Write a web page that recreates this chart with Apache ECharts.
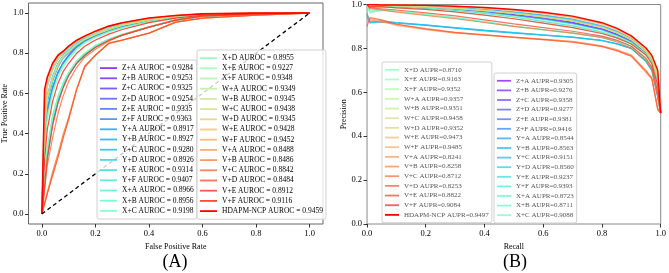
<!DOCTYPE html>
<html>
<head>
<meta charset="utf-8">
<script src="https://cdn.jsdelivr.net/npm/echarts@6/dist/echarts.min.js"></script>
<style>
  html, body { margin: 0; padding: 0; background: #fff; }
  #chart { width: 669px; height: 273px; }
</style>
</head>
<body>
<div id="chart"></div>
<script>
// model names, same order in both panels
var models = ['Z+A', 'Z+B', 'Z+C', 'Z+D', 'Z+E', 'Z+F',
  'Y+A', 'Y+B', 'Y+C', 'Y+D', 'Y+E', 'Y+F',
  'X+A', 'X+B', 'X+C', 'X+D', 'X+E', 'X+F',
  'W+A', 'W+B', 'W+C', 'W+D', 'W+E', 'W+F',
  'V+A', 'V+B', 'V+C', 'V+D', 'V+E', 'V+F', 'HDAPM-NCP'];

var auroc = ['0.9284', '0.9253', '0.9325', '0.9254', '0.9335', '0.9363',
  '0.8917', '0.8927', '0.9280', '0.8926', '0.9314', '0.9407',
  '0.8966', '0.8956', '0.9198', '0.8955', '0.9227', '0.9348',
  '0.9349', '0.9345', '0.9438', '0.9345', '0.9428', '0.9452',
  '0.8488', '0.8486', '0.8842', '0.8484', '0.8912', '0.9116', '0.9459'];

var aupr = ['0.9305', '0.9276', '0.9358', '0.9277', '0.9381', '0.9416',
  '0.8544', '0.8563', '0.9151', '0.8560', '0.9237', '0.9393',
  '0.8723', '0.8711', '0.9088', '0.8710', '0.9163', '0.9352',
  '0.9357', '0.9351', '0.9458', '0.9352', '0.9473', '0.9485',
  '0.8241', '0.8258', '0.8712', '0.8253', '0.8822', '0.9084', '0.9497'];

var ticks = [0, 0.2, 0.4, 0.6, 0.8, 1.0];

// ROC: shared false positive rate grid, one TPR row per model
var rocFpr = [0, 0.01, 0.02, 0.04, 0.06, 0.08, 0.1, 0.13, 0.16, 0.2, 0.25, 0.3, 0.4, 0.5, 0.6, 0.8, 1];
var rocTpr = [
  [0, .38, .52, .63, .705, .755, .79, .835, .865, .89, .915, .935, .962, .981, .992, .998, 1],   // Z+A
  [0, .36, .50, .62, .70, .75, .785, .83, .86, .885, .91, .93, .96, .98, .992, .998, 1],        // Z+B
  [0, .42, .56, .665, .735, .78, .805, .84, .868, .893, .918, .938, .965, .983, .993, .999, 1], // Z+C
  [0, .35, .51, .625, .70, .748, .785, .828, .858, .884, .91, .931, .96, .98, .991, .998, 1],   // Z+D
  [0, .43, .57, .67, .74, .782, .808, .842, .869, .894, .919, .939, .966, .983, .993, .999, 1], // Z+E
  [0, .46, .59, .685, .75, .79, .815, .848, .873, .897, .922, .942, .968, .984, .994, .999, 1], // Z+F
  [0, .13, .27, .45, .56, .635, .69, .75, .79, .83, .865, .89, .93, .965, .985, .996, 1],       // Y+A
  [0, .15, .29, .46, .565, .64, .695, .752, .792, .832, .866, .89, .93, .965, .985, .996, 1],   // Y+B
  [0, .38, .52, .635, .705, .752, .788, .833, .863, .888, .914, .934, .962, .981, .992, .998, 1], // Y+C
  [0, .14, .30, .465, .56, .64, .693, .752, .79, .83, .866, .891, .93, .965, .985, .996, 1],    // Y+D
  [0, .41, .55, .66, .73, .775, .802, .84, .867, .892, .917, .937, .964, .982, .993, .999, 1],  // Y+E
  [0, .52, .63, .715, .768, .80, .825, .856, .88, .902, .928, .946, .971, .986, .995, 1, 1],    // Y+F
  [0, .17, .33, .49, .585, .655, .705, .762, .80, .838, .87, .894, .932, .966, .986, .996, 1],  // X+A
  [0, .16, .32, .485, .58, .65, .70, .76, .798, .836, .869, .893, .932, .966, .985, .996, 1],   // X+B
  [0, .32, .47, .60, .68, .735, .772, .818, .85, .878, .905, .926, .957, .978, .99, .997, 1],   // X+C
  [0, .16, .31, .48, .58, .652, .702, .76, .80, .836, .868, .893, .932, .966, .985, .996, 1],   // X+D
  [0, .34, .49, .61, .69, .742, .778, .824, .855, .882, .908, .928, .958, .979, .991, .998, 1], // X+E
  [0, .44, .575, .675, .742, .784, .81, .845, .87, .895, .92, .94, .967, .984, .994, .999, 1],  // X+F
  [0, .45, .58, .677, .744, .785, .81, .844, .87, .895, .92, .94, .967, .984, .994, .999, 1],   // W+A
  [0, .44, .575, .675, .743, .784, .81, .845, .87, .895, .92, .94, .966, .984, .994, .999, 1],  // W+B
  [0, .54, .65, .73, .778, .808, .832, .862, .885, .907, .932, .95, .973, .987, .996, 1, 1],    // W+C
  [0, .45, .58, .676, .742, .783, .809, .844, .869, .894, .919, .94, .966, .984, .994, .999, 1], // W+D
  [0, .53, .645, .727, .775, .806, .83, .86, .884, .906, .931, .949, .972, .987, .995, 1, 1],   // W+E
  [0, .58, .67, .745, .788, .812, .835, .865, .888, .91, .934, .951, .974, .988, .996, 1, 1],   // W+F
  [0, .06, .11, .20, .29, .39, .48, .625, .735, .79, .85, .866, .90, .955, .975, .99, 1],       // V+A
  [0, .05, .10, .21, .30, .40, .48, .62, .73, .792, .848, .865, .90, .955, .975, .99, 1],       // V+B
  [0, .12, .24, .38, .50, .59, .66, .73, .78, .82, .86, .89, .93, .965, .985, .995, 1],         // V+C
  [0, .05, .10, .19, .28, .38, .47, .62, .735, .79, .85, .865, .90, .955, .975, .99, 1],        // V+D
  [0, .14, .28, .44, .55, .63, .69, .75, .79, .83, .865, .89, .93, .965, .985, .996, 1],        // V+E
  [0, .27, .42, .56, .65, .71, .75, .80, .835, .866, .895, .918, .952, .975, .989, .997, 1],    // V+F
  [0, .62, .68, .75, .79, .81, .835, .865, .885, .91, .935, .952, .975, .988, .996, 1, 1]       // HDAPM-NCP
];

// PR: shared recall grid, one precision row per model
var prRecall = [0, 0.01, 0.05, 0.1, 0.2, 0.3, 0.4, 0.5, 0.6, 0.7, 0.8, 0.85, 0.9, 0.95, 0.97, 0.99, 1];
var prPrec = [
  [1, .99, .993, .993, .988, .98, .97, .955, .94, .92, .89, .866, .835, .78, .745, .66, .505],   // Z+A
  [1, .99, .99, .99, .985, .976, .966, .952, .935, .915, .886, .863, .832, .778, .742, .655, .505], // Z+B
  [1, .995, .995, .995, .99, .983, .973, .96, .945, .926, .896, .873, .84, .786, .752, .67, .505],  // Z+C
  [1, .99, .99, .99, .985, .977, .966, .952, .935, .915, .886, .862, .832, .778, .742, .655, .505], // Z+D
  [1, .995, .996, .996, .991, .985, .975, .963, .948, .928, .898, .875, .842, .788, .754, .672, .505], // Z+E
  [1, 1, .997, .996, .992, .987, .978, .967, .952, .933, .903, .879, .846, .79, .756, .678, .505],  // Z+F
  [.95, .92, .92, .915, .905, .892, .88, .87, .86, .85, .835, .82, .80, .74, .70, .58, .505],       // Y+A
  [.96, .92, .925, .918, .907, .895, .883, .872, .862, .852, .837, .822, .80, .742, .70, .58, .505], // Y+B
  [1, .99, .99, .99, .984, .974, .96, .943, .923, .903, .874, .853, .824, .772, .738, .65, .505],   // Y+C
  [.94, .915, .922, .917, .906, .894, .882, .872, .861, .851, .836, .821, .80, .741, .70, .58, .505], // Y+D
  [1, .99, .99, .99, .985, .975, .964, .95, .932, .912, .883, .86, .83, .776, .74, .652, .505],     // Y+E
  [1, .995, .996, .996, .991, .985, .976, .964, .949, .93, .90, .876, .843, .789, .755, .674, .505], // Y+F
  [1, .97, .975, .97, .955, .94, .922, .902, .886, .871, .851, .835, .81, .75, .71, .60, .505],      // X+A
  [1, .965, .973, .968, .953, .938, .92, .90, .884, .869, .849, .834, .809, .749, .709, .60, .505],  // X+B
  [1, .99, .99, .985, .978, .966, .952, .935, .915, .895, .868, .848, .82, .77, .73, .63, .505],     // X+C
  [1, .96, .975, .97, .955, .94, .92, .90, .885, .87, .85, .835, .81, .75, .71, .60, .505],          // X+D
  [1, .99, .99, .99, .985, .975, .962, .945, .925, .905, .875, .855, .825, .775, .74, .65, .505],    // X+E
  [1, .995, .995, .995, .99, .982, .972, .96, .944, .925, .895, .872, .84, .785, .75, .67, .505],    // X+F
  [1, .995, .995, .995, .99, .983, .973, .96, .945, .925, .896, .872, .84, .786, .752, .67, .505],   // W+A
  [1, .99, .995, .995, .99, .982, .972, .96, .944, .924, .895, .871, .84, .785, .75, .67, .505],     // W+B
  [1, 1, .998, .997, .994, .99, .982, .972, .958, .94, .91, .885, .85, .795, .76, .685, .505],       // W+C
  [1, .995, .995, .995, .99, .982, .972, .96, .944, .925, .895, .872, .84, .785, .75, .668, .505],   // W+D
  [1, 1, .998, .997, .995, .99, .984, .974, .96, .942, .912, .887, .852, .797, .762, .69, .505],     // W+E
  [1, 1, .998, .998, .995, .991, .985, .975, .962, .944, .914, .889, .854, .80, .765, .695, .505],   // W+F
  [.93, .935, .925, .905, .885, .87, .86, .85, .84, .83, .81, .79, .765, .69, .66, .52, .505],       // V+A
  [.95, .93, .92, .91, .888, .872, .862, .852, .842, .832, .812, .795, .77, .70, .665, .53, .505],   // V+B
  [1, .98, .975, .965, .95, .935, .918, .90, .885, .87, .85, .83, .80, .745, .705, .58, .505],       // V+C
  [.9, .94, .93, .91, .89, .873, .862, .85, .84, .828, .808, .79, .765, .695, .662, .52, .505],      // V+D
  [1, .985, .98, .975, .962, .948, .93, .912, .895, .878, .856, .838, .81, .755, .715, .60, .505],   // V+E
  [1, .99, .99, .985, .978, .966, .952, .935, .915, .895, .868, .848, .82, .77, .73, .63, .505],     // V+F
  [1, 1, .998, .998, .996, .992, .986, .977, .965, .947, .917, .892, .857, .802, .768, .70, .505]    // HDAPM-NCP
];

var diagLine = [[0, 0], [1, 1]];

var font = 'Liberation Serif';
var chart = echarts.init(document.getElementById('chart'));

// matplotlib 'rainbow' colormap
function rainbow(t, a) {
  var r = Math.min(1, Math.abs(2 * t - 0.5));
  var g = Math.sin(Math.PI * t);
  var b = Math.cos(Math.PI * t / 2);
  return 'rgba(' + Math.round(r * 255) + ',' + Math.round(g * 255) + ',' + Math.round(b * 255) + ',' + a + ')';
}

var last = models.length - 1;
var rocNames = models.map(function (m, i) { return m + ' AUROC = ' + auroc[i]; });
var prNames = models.map(function (m, i) { return m + ' AUPR=' + aupr[i]; });

var series = [];
models.forEach(function (m, i) {
  var t = i / last;
  series.push({
    name: rocNames[i], type: 'line', xAxisIndex: 0, yAxisIndex: 0,
    symbol: 'none', silent: true,
    color: i === last ? '#ff0000' : rainbow(t, 0.8),
    lineStyle: { width: i === last ? 1.6 : 1.2 },
    data: rocFpr.map(function (x, j) { return [x, rocTpr[i][j]]; })
  });
});
series.push({
  type: 'line', xAxisIndex: 0, yAxisIndex: 0, symbol: 'none', silent: true,
  color: '#000', lineStyle: { width: 1.3, type: [4, 3] }, z: 3,
  data: diagLine
});
models.forEach(function (m, i) {
  var t = i / last;
  series.push({
    name: prNames[i], type: 'line', xAxisIndex: 1, yAxisIndex: 1,
    symbol: 'none', silent: true,
    color: i === last ? '#ff0000' : rainbow(t, 0.7),
    lineStyle: { width: i === last ? 1.4 : 1.2 },
    data: prRecall.map(function (x, j) { return [x, prPrec[i][j]]; })
  });
});

var tickLabel = { fontFamily: font, fontSize: 8.5, color: '#000', formatter: function (v) { return v.toFixed(1); } };

function legend(data, left, top, w, fs, lh, color) {
  return {
    data: data, orient: 'vertical', left: left, top: top,
    icon: 'rect', itemWidth: w, itemHeight: 1.8, itemGap: 0,
    padding: [3, 3, 3, 3], selectedMode: false,
    backgroundColor: 'rgba(255,255,255,0.8)', borderColor: '#d0d0d0', borderWidth: 1, borderRadius: 2,
    textStyle: { fontFamily: font, fontSize: fs, lineHeight: lh, color: color }
  };
}

var option = {
  animation: false,
  backgroundColor: '#fff',
  grid: [
    { left: 27, top: 3, width: 296, height: 221, show: true, borderColor: '#666', borderWidth: 1 },
    { left: 367, top: 4, width: 297, height: 220, show: true, borderColor: '#888', borderWidth: 1 }
  ],
  xAxis: [
    {
      gridIndex: 0, type: 'value', min: -0.05, max: 1.05,
      name: 'False Positive Rate', nameLocation: 'middle', nameGap: 17,
      nameTextStyle: { fontFamily: font, fontSize: 8, color: '#000' },
      axisLine: { show: false, onZero: false },
      axisTick: { show: true, length: 3.5, customValues: ticks, lineStyle: { color: '#333' } },
      axisLabel: Object.assign({ customValues: ticks, margin: 5 }, tickLabel),
      splitLine: { show: false }
    },
    {
      gridIndex: 1, type: 'value', min: 0, max: 1, interval: 0.2,
      name: 'Recall', nameLocation: 'middle', nameGap: 15,
      nameTextStyle: { fontFamily: font, fontSize: 8, color: '#000' },
      axisLine: { show: false, onZero: false },
      axisTick: { show: true, length: 3.5, lineStyle: { color: '#333' } },
      axisLabel: Object.assign({ margin: 5 }, tickLabel),
      splitLine: { show: false }
    }
  ],
  yAxis: [
    {
      gridIndex: 0, type: 'value', min: -0.05, max: 1.05,
      name: 'True Positive Rate', nameLocation: 'middle', nameGap: 18,
      nameTextStyle: { fontFamily: font, fontSize: 8, color: '#000' },
      axisLine: { show: false, onZero: false },
      axisTick: { show: true, length: 3.5, customValues: ticks, lineStyle: { color: '#333' } },
      axisLabel: Object.assign({ customValues: ticks, margin: 5 }, tickLabel),
      splitLine: { show: false }
    },
    {
      gridIndex: 1, type: 'value', min: 0, max: 1, interval: 0.2,
      name: 'Precision', nameLocation: 'middle', nameGap: 16,
      nameTextStyle: { fontFamily: font, fontSize: 8, color: '#000' },
      axisLine: { show: false, onZero: false },
      axisTick: { show: true, length: 3.5, lineStyle: { color: '#333' } },
      axisLabel: Object.assign({ margin: 5 }, tickLabel),
      splitLine: { show: false }
    }
  ],
  legend: [
    legend(rocNames.slice(0, 15), 97, 60, 17, 7.5, 10.2, '#000'),
    legend(rocNames.slice(15), 197, 50, 17, 7.5, 10.2, '#000'),
    legend(prNames.slice(15), 382, 62, 14, 7, 9.67, '#555'),
    legend(prNames.slice(0, 15), 494, 73, 14, 7, 9.6, '#555')
  ],
  graphic: [
    { type: 'text', x: 175, y: 262, style: { text: '(A)', font: '18px "Liberation Serif"', fill: '#000', align: 'center', verticalAlign: 'middle' } },
    { type: 'text', x: 515, y: 262, style: { text: '(B)', font: '18px "Liberation Serif"', fill: '#000', align: 'center', verticalAlign: 'middle' } }
  ],
  series: series
};

chart.setOption(option);
</script>
</body>
</html>
